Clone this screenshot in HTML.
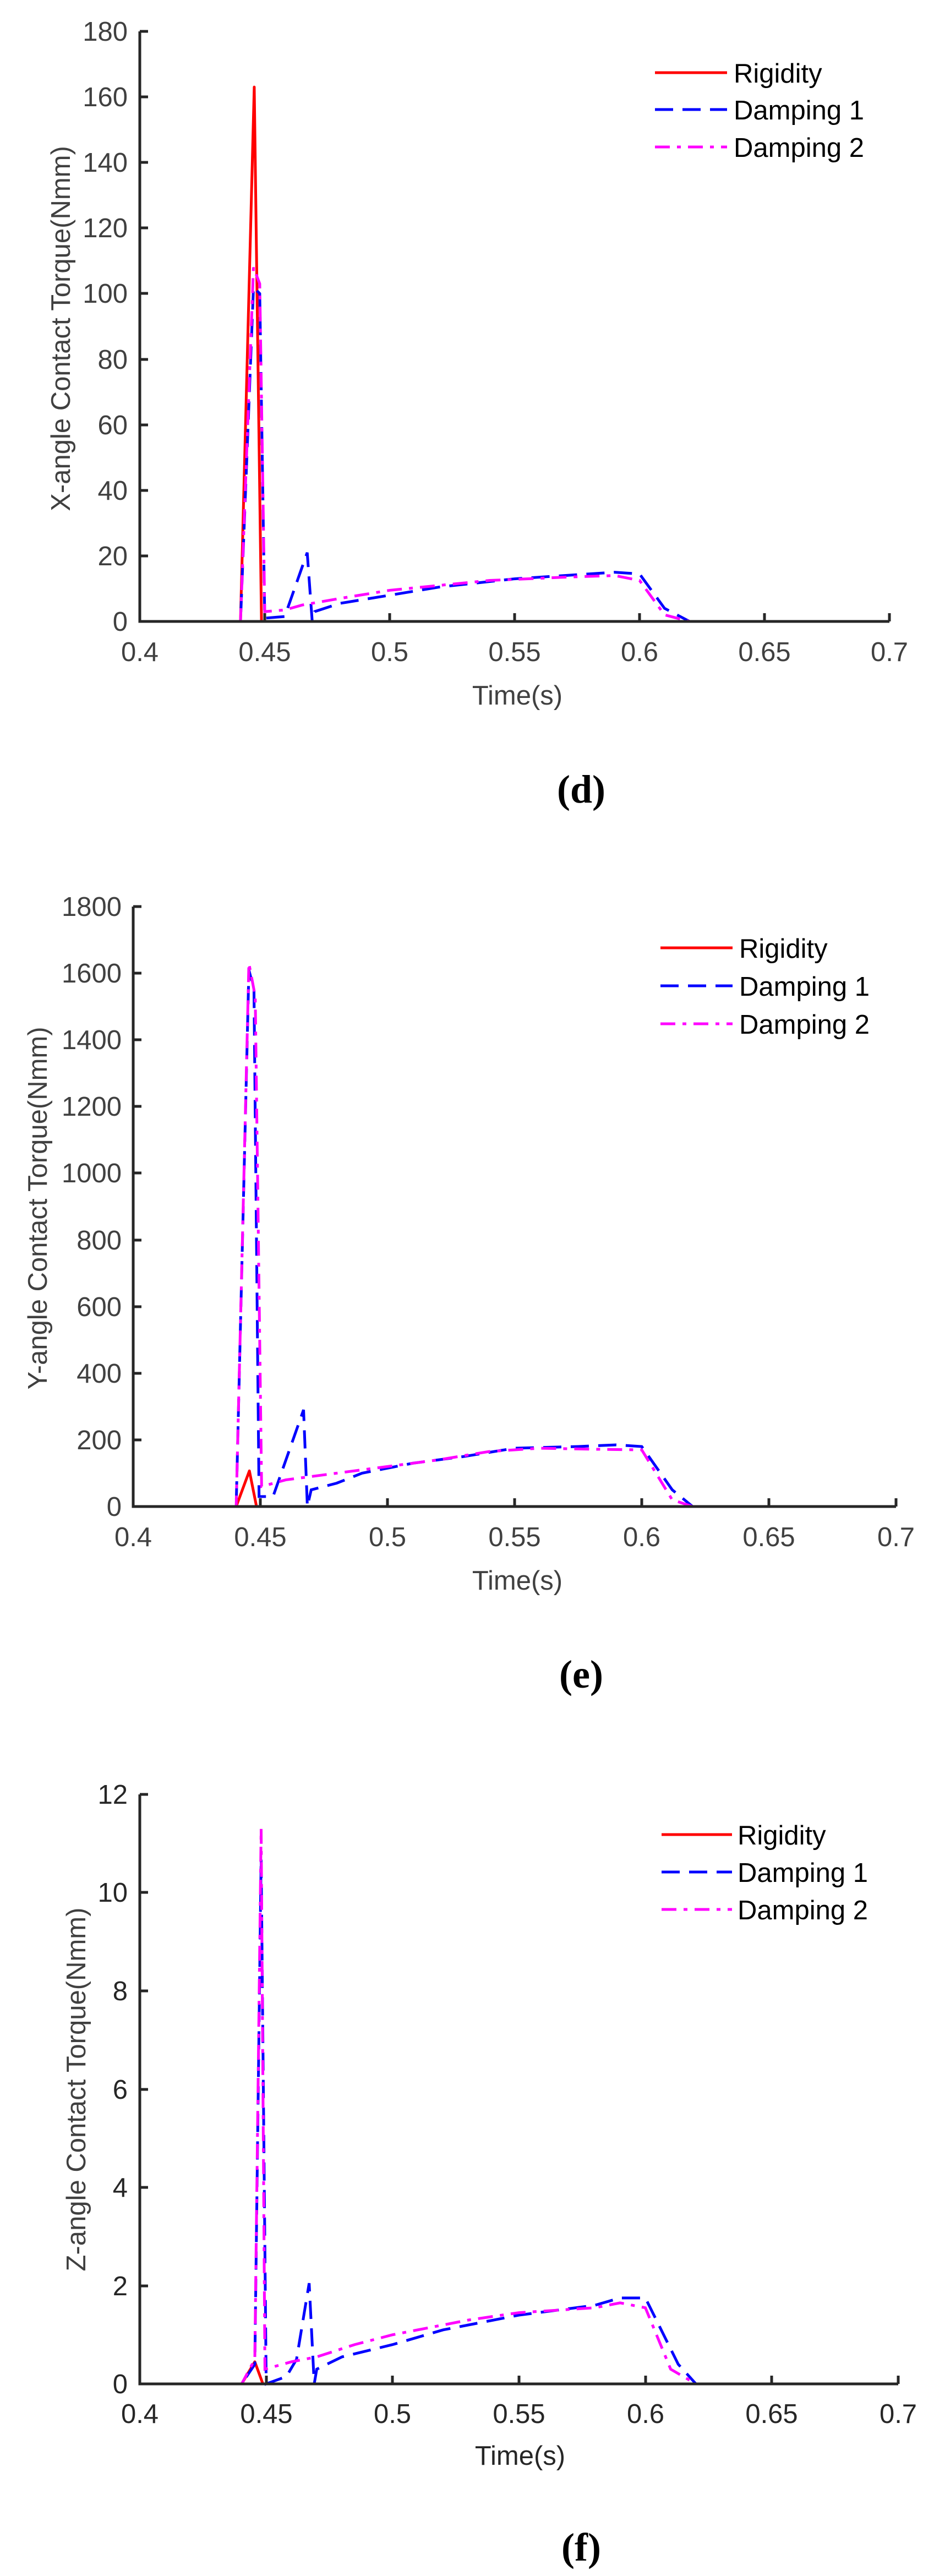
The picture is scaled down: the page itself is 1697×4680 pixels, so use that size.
<!DOCTYPE html>
<html><head><meta charset="utf-8"><style>
html,body{margin:0;padding:0;background:#fff;}
svg{display:block;}
text{font-family:"Liberation Sans",Arial,sans-serif;}
.tl{font-size:49px;fill:#404040;}
.tl3{font-size:49px;fill:#262626;}
.lg{font-size:49px;fill:#000;}
.cap{font-family:"Liberation Serif",serif;font-size:72px;fill:#000;font-weight:bold;}
.ax{stroke:#262626;stroke-width:5;fill:none;}
.r{stroke:#ff0000;stroke-width:5;fill:none;vector-effect:non-scaling-stroke;stroke-linejoin:round;}
.b{stroke:#0000ff;stroke-width:5;fill:none;vector-effect:non-scaling-stroke;stroke-dasharray:33 17;}
.m{stroke:#ff00ff;stroke-width:5;fill:none;vector-effect:non-scaling-stroke;stroke-dasharray:27 13 7 13;}
</style></head><body>
<svg width="1697" height="4680" viewBox="0 0 1697 4680" xmlns="http://www.w3.org/2000/svg">

<!-- ===== Plot 1 (d) ===== -->
<g>
<g transform="translate(254,1129) scale(4.54,-5.956)">
<polyline class="r" points="0,0 40.3,0 45.8,163 48.7,0 300,0"/>
<polyline class="b" points="0,0 40.3,0 45.5,102 48,100 50,1 58,1.5 67,21 69,0 70,3 80,5.5 100,8 120,10.5 150,13 170,14 190,15 200,14.5 210,4 220,0 300,0"/>
<polyline class="m" points="0,0 40.3,0 45.5,108 48,103 50,3 58,3.5 65,5 80,7 100,9.5 120,11 140,12.5 170,13.5 190,14 200,12.5 210,2 220,0 300,0"/>
</g>
<path class="ax" d="M254,57 V1129 H1616"/>
<path class="ax" d="M254,57 h15 M254,176 h15 M254,295 h15 M254,414 h15 M254,533 h15 M254,653 h15 M254,772 h15 M254,891 h15 M254,1010 h15"/>
<path class="ax" d="M481,1129 v-15 M708,1129 v-15 M935,1129 v-15 M1162,1129 v-15 M1389,1129 v-15 M1616,1129 v-15"/>
<g class="tl" text-anchor="end">
<text x="232" y="74">180</text><text x="232" y="193">160</text><text x="232" y="312">140</text>
<text x="232" y="431">120</text><text x="232" y="550">100</text><text x="232" y="670">80</text>
<text x="232" y="789">60</text><text x="232" y="908">40</text><text x="232" y="1027">20</text>
<text x="232" y="1146">0</text>
</g>
<g class="tl" text-anchor="middle">
<text x="254" y="1201">0.4</text><text x="481" y="1201">0.45</text><text x="708" y="1201">0.5</text>
<text x="935" y="1201">0.55</text><text x="1162" y="1201">0.6</text><text x="1389" y="1201">0.65</text>
<text x="1616" y="1201">0.7</text>
<text x="940" y="1280">Time(s)</text>
</g>
<text class="tl" text-anchor="middle" transform="translate(127,597) rotate(-90)">X-angle Contact Torque(Nmm)</text>
<line x1="1190" y1="132" x2="1321" y2="132" stroke="#ff0000" stroke-width="5"/>
<line x1="1190" y1="199" x2="1321" y2="199" stroke="#0000ff" stroke-width="5" stroke-dasharray="33 17"/>
<line x1="1190" y1="267" x2="1321" y2="267" stroke="#ff00ff" stroke-width="5" stroke-dasharray="27 13 7 13"/>
<text class="lg" x="1333" y="150">Rigidity</text>
<text class="lg" x="1333" y="217">Damping 1</text>
<text class="lg" x="1333" y="285">Damping 2</text>
<text class="cap" x="1056" y="1458" text-anchor="middle">(d)</text>
</g>

<!-- ===== Plot 2 (e) ===== -->
<g>
<g transform="translate(242,2737) scale(4.62,-0.6056)">
<polyline class="r" points="0,0 40.5,0 45.7,107 48.5,0 300,0"/>
<polyline class="b" points="0,0 40.5,0 45.5,1610 47.5,1550 49.5,30 55,30 67,290 68.5,0 70,50 80,70 90,100 110,130 130,150 150,175 175,180 190,185 200,180 212,50 220,0 300,0"/>
<polyline class="m" points="0,0 40.5,0 45.5,1630 48,1530 50.5,60 60,80 80,100 100,120 120,140 140,165 160,175 180,172 200,170 212,20 220,0 300,0"/>
</g>
<path class="ax" d="M242,1647 V2737 H1628"/>
<path class="ax" d="M242,1647 h15 M242,1768 h15 M242,1889 h15 M242,2010 h15 M242,2131 h15 M242,2253 h15 M242,2374 h15 M242,2495 h15 M242,2616 h15"/>
<path class="ax" d="M473,2737 v-15 M704,2737 v-15 M935,2737 v-15 M1166,2737 v-15 M1397,2737 v-15 M1628,2737 v-15"/>
<g class="tl" text-anchor="end">
<text x="221" y="1664">1800</text><text x="221" y="1785">1600</text><text x="221" y="1906">1400</text>
<text x="221" y="2027">1200</text><text x="221" y="2148">1000</text><text x="221" y="2270">800</text>
<text x="221" y="2391">600</text><text x="221" y="2512">400</text><text x="221" y="2633">200</text>
<text x="221" y="2754">0</text>
</g>
<g class="tl" text-anchor="middle">
<text x="242" y="2809">0.4</text><text x="473" y="2809">0.45</text><text x="704" y="2809">0.5</text>
<text x="935" y="2809">0.55</text><text x="1166" y="2809">0.6</text><text x="1397" y="2809">0.65</text>
<text x="1628" y="2809">0.7</text>
<text x="940" y="2888">Time(s)</text>
</g>
<text class="tl" text-anchor="middle" transform="translate(85,2195) rotate(-90)">Y-angle Contact Torque(Nmm)</text>
<line x1="1200" y1="1722" x2="1331" y2="1722" stroke="#ff0000" stroke-width="5"/>
<line x1="1200" y1="1791" x2="1331" y2="1791" stroke="#0000ff" stroke-width="5" stroke-dasharray="33 17"/>
<line x1="1200" y1="1860" x2="1331" y2="1860" stroke="#ff00ff" stroke-width="5" stroke-dasharray="27 13 7 13"/>
<text class="lg" x="1343" y="1740">Rigidity</text>
<text class="lg" x="1343" y="1809">Damping 1</text>
<text class="lg" x="1343" y="1878">Damping 2</text>
<text class="cap" x="1056" y="3066" text-anchor="middle">(e)</text>
</g>

<!-- ===== Plot 3 (f) ===== -->
<g>
<g transform="translate(254,4331) scale(4.593,-89.25)">
<polyline class="r" points="0,0 40.3,0 45.5,0.45 48.7,0 300,0"/>
<polyline class="b" points="0,0 40.3,0 45.5,0.4 48,10.7 50,0 58,0.15 62,0.5 67,2.05 69,0 70,0.3 80,0.55 100,0.8 120,1.1 150,1.4 180,1.6 190,1.75 200,1.75 213,0.4 220,0 300,0"/>
<polyline class="m" points="0,0 40.3,0 45.5,0.5 48,11.3 49.5,0.3 60,0.45 70,0.55 85,0.8 100,1.0 130,1.3 150,1.45 180,1.55 190,1.65 200,1.55 210,0.3 220,0 300,0"/>
</g>
<path class="ax" d="M254,3260 V4331 H1632"/>
<path class="ax" d="M254,3260 h15 M254,3438 h15 M254,3617 h15 M254,3796 h15 M254,3974 h15 M254,4153 h15"/>
<path class="ax" d="M484,4331 v-15 M713,4331 v-15 M943,4331 v-15 M1173,4331 v-15 M1402,4331 v-15 M1632,4331 v-15"/>
<g class="tl3" text-anchor="end">
<text x="232" y="3277">12</text><text x="232" y="3455">10</text><text x="232" y="3634">8</text>
<text x="232" y="3813">6</text><text x="232" y="3991">4</text><text x="232" y="4170">2</text>
<text x="232" y="4348">0</text>
</g>
<g class="tl3" text-anchor="middle">
<text x="254" y="4402">0.4</text><text x="484" y="4402">0.45</text><text x="713" y="4402">0.5</text>
<text x="943" y="4402">0.55</text><text x="1173" y="4402">0.6</text><text x="1402" y="4402">0.65</text>
<text x="1632" y="4402">0.7</text>
<text x="945" y="4478">Time(s)</text>
</g>
<text class="tl" text-anchor="middle" transform="translate(155,3796) rotate(-90)">Z-angle Contact Torque(Nmm)</text>
<line x1="1202" y1="3333" x2="1330" y2="3333" stroke="#ff0000" stroke-width="5"/>
<line x1="1202" y1="3401" x2="1330" y2="3401" stroke="#0000ff" stroke-width="5" stroke-dasharray="33 17"/>
<line x1="1202" y1="3469" x2="1330" y2="3469" stroke="#ff00ff" stroke-width="5" stroke-dasharray="27 13 7 13"/>
<text class="lg" x="1340" y="3351">Rigidity</text>
<text class="lg" x="1340" y="3419">Damping 1</text>
<text class="lg" x="1340" y="3487">Damping 2</text>
<text class="cap" x="1056" y="4652" text-anchor="middle">(f)</text>
</g>
</svg>
</body></html>
